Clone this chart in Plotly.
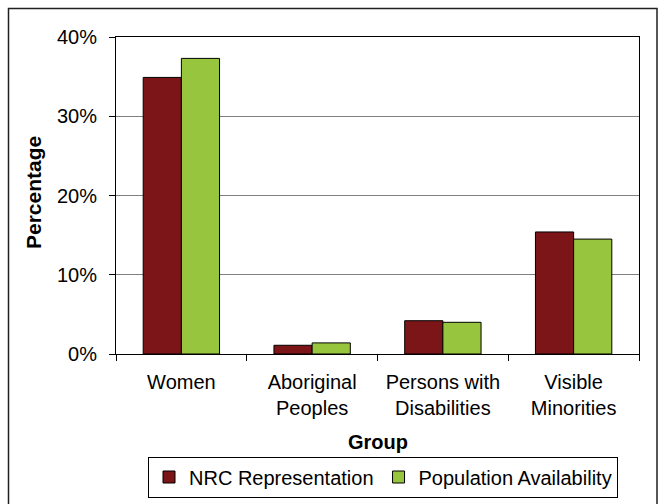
import plotly.graph_objects as go

# Designated group representation at NRC versus population availability
groups = ["Women", "Aboriginal<br>Peoples", "Persons with<br>Disabilities", "Visible<br>Minorities"]
nrc_representation = [0.349, 0.011, 0.042, 0.154]
population_availability = [0.373, 0.014, 0.040, 0.145]
y_ticks = [0, 0.1, 0.2, 0.3, 0.4]
y_tick_labels = ["0%", "10%", "20%", "30%", "40%"]

W, H = 659, 504
L, R, T, B = 116, 20, 37, 150
plot_w = W - L - R
plot_h = H - T - B

def px_x(px):
    return (px - L) / plot_w

def px_y(py):
    return (H - B - py) / plot_h

FONT = "Arial, Liberation Sans, sans-serif"

fig = go.Figure()
fig.add_trace(go.Bar(
    name="NRC Representation", x=groups, y=nrc_representation,
    marker=dict(color="#7B1517", line=dict(color="#000000", width=1)),
))
fig.add_trace(go.Bar(
    name="Population Availability", x=groups, y=population_availability,
    marker=dict(color="#97C53E", line=dict(color="#000000", width=1)),
))

fig.update_layout(
    width=W, height=H,
    margin=dict(l=L, r=R, t=T, b=B, pad=0, autoexpand=False),
    paper_bgcolor="white", plot_bgcolor="white",
    font=dict(family=FONT, size=20, color="black"),
    barmode="group", bargap=0.416, bargroupgap=0,
    showlegend=True,
    legend=dict(
        orientation="h", x=px_x(383), xanchor="center",
        y=px_y(477), yanchor="middle",
        bordercolor="black", borderwidth=1, bgcolor="white",
        font=dict(size=20), itemwidth=30, tracegroupgap=0,
    ),
)

fig.update_xaxes(
    type="category", tickson="boundaries", ticks="outside", ticklen=6,
    tickcolor="black", showline=True, linecolor="black", linewidth=1,
    mirror=True, showgrid=False, tickfont=dict(size=20),
    ticklabelstandoff=10, automargin=False,
)
fig.update_yaxes(
    range=[0, 0.4], tickvals=y_ticks, ticktext=y_tick_labels,
    ticks="outside", ticklen=6, tickcolor="black",
    showline=True, linecolor="black", linewidth=1, mirror=True,
    showgrid=True, gridcolor="#808080", gridwidth=1,
    zeroline=False, tickfont=dict(size=20), ticklabelstandoff=8,
    automargin=False,
)

# axis titles
fig.add_annotation(
    text="<b>Percentage</b>", textangle=-90, xref="paper", yref="paper",
    x=px_x(33), y=px_y(193), xanchor="center", yanchor="middle",
    showarrow=False, font=dict(size=21),
)
fig.add_annotation(
    text="<b>Group</b>", xref="paper", yref="paper",
    x=px_x(378), y=px_y(442), xanchor="center", yanchor="middle",
    showarrow=False, font=dict(size=20),
)

# outer chart frame
fig.add_shape(
    type="rect", xref="paper", yref="paper",
    x0=px_x(8.5), x1=px_x(657), y0=px_y(520), y1=px_y(8.5),
    line=dict(color="#202020", width=1.5), fillcolor="rgba(0,0,0,0)",
    layer="below",
)

fig.write_html("out.html")
